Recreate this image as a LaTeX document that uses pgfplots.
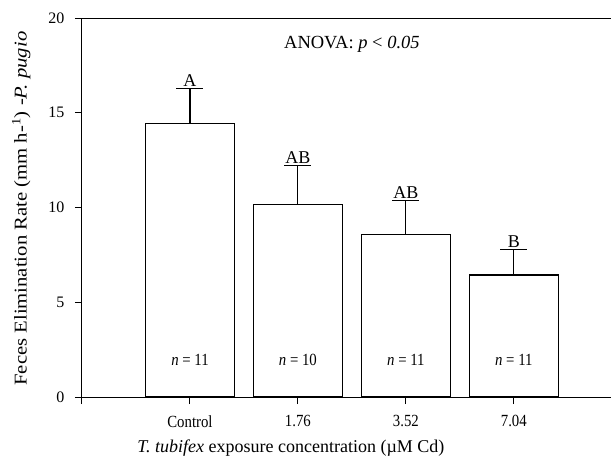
\documentclass[border=0pt]{standalone}
\usepackage{fontspec}
\setmainfont{Liberation Serif}
\usepackage{pgfplots}
\pgfplotsset{compat=1.18}

\newcommand{\tall}[1]{\scalebox{1}[1.15]{#1}}

\begin{document}
\begin{tikzpicture}
\begin{axis}[
    name=ax,
    scale only axis,
    width=529pt, height=379pt,
    xmin=0, xmax=4.9,
    ymin=0, ymax=20,
    axis lines*=left,
    axis line style={-, line width=1pt},
    tick align=outside,
    major tick length=7pt,
    tick style={black, line width=1pt},
    xtick={0,1,2,3,4},
    xticklabels={,\tall{Control},\tall{1.76},\tall{3.52},\tall{7.04}},
    ytick={0,5,10,15,20},
    /pgf/number format/assume math mode=true,
    x tick label style={font=\fontsize{14.8}{16}\selectfont, yshift=-8pt},
    y tick label style={font=\fontsize{16}{18}\selectfont, xshift=-7pt},
    xlabel={\textit{T. tubifex} exposure concentration (µM Cd)},
    ylabel={\scalebox{1.15}[1]{Feces Elimination Rate (mm h-\textsuperscript{1}) -\textit{P. pugio}}},
    xlabel style={font=\fontsize{18}{20}\selectfont, at={(axis description cs:0.395,-0.135)}, anchor=center},
    ylabel style={font=\fontsize{18}{20}\selectfont, at={(axis description cs:-0.115,0.497)}, anchor=center, rotate=0},
    clip=false,
]
\addplot[ybar, bar width=0.82, fill=white, draw=black, line width=1.1pt,
    error bars/.cd, y dir=plus, y explicit,
    error mark=|, error mark options={mark size=13.5pt, line width=1.1pt},
    error bar style={line width=1.1pt}]
coordinates {
(1,14.42) +- (0,1.87)
(2,10.14) +- (0,2.08)
(3,8.56) +- (0,1.81)
(4,6.44) +- (0,1.33)
};
\draw[line width=1pt] (rel axis cs:0,1) -- (rel axis cs:1,1);
\node[anchor=south, inner sep=2pt, font=\fontsize{18}{20}\selectfont] at (axis cs:1,16.29) {A};
\node[anchor=south, inner sep=2pt, font=\fontsize{18}{20}\selectfont] at (axis cs:2,12.22) {AB};
\node[anchor=south, inner sep=2pt, font=\fontsize{18}{20}\selectfont] at (axis cs:3,10.37) {AB};
\node[anchor=south, inner sep=2pt, font=\fontsize{18}{20}\selectfont] at (axis cs:4,7.77) {B};
\node[font=\fontsize{14.8}{16}\selectfont] at (axis cs:1,1.95) {\tall{\textit{n} = 11}};
\node[font=\fontsize{14.8}{16}\selectfont] at (axis cs:2,1.95) {\tall{\textit{n} = 10}};
\node[font=\fontsize{14.8}{16}\selectfont] at (axis cs:3,1.95) {\tall{\textit{n} = 11}};
\node[font=\fontsize{14.8}{16}\selectfont] at (axis cs:4,1.95) {\tall{\textit{n} = 11}};
\node[font=\fontsize{18.5}{20}\selectfont] at (axis cs:2.5,18.6) {ANOVA: \textit{p} < \textit{0.05}};
\end{axis}
\pgfresetboundingbox
\path[use as bounding box] ([xshift=-82pt,yshift=-64pt]ax.south west) rectangle ([yshift=18pt]ax.north east);
\end{tikzpicture}
\end{document}
